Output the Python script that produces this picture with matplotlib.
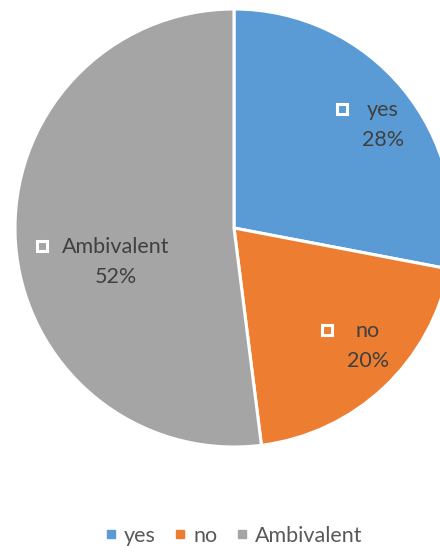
import matplotlib
matplotlib.use("Agg")
import matplotlib.pyplot as plt
from matplotlib.lines import Line2D

categories = ["yes", "no", "Ambivalent"]
shares = [28, 20, 52]
colors = ["#5B9BD5", "#ED7D31", "#A5A5A5"]

W, H = 440, 546
fig = plt.figure(figsize=(W / 100, H / 100), dpi=100)
ax = fig.add_axes([0, 0, 1, 1])

FONT = ["Lato", "DejaVu Sans"]
center = (234, H - 228)
radius = 219

ax.pie(shares, colors=colors, startangle=90, counterclock=False,
       center=center, radius=radius, frame=True,
       wedgeprops=dict(edgecolor="white", linewidth=2.2))
ax.set_xlim(0, W)
ax.set_ylim(0, H)
ax.set_aspect("equal")
ax.axis("off")

# data label anchor points (text block centres, pixel space)
label_pos = [(383, H - 125), (368, H - 346), (116, H - 262)]
line_gap = 30

fig.canvas.draw()
renderer = fig.canvas.get_renderer()
for cat, val, (x, y), col in zip(categories, shares, label_pos, colors):
    t = ax.text(x, y, f"{cat}\n{val}%", ha="center", va="center",
                fontsize=15.5, color="#404040", family=FONT, linespacing=1.63,
                multialignment="center")
    bb = t.get_window_extent(renderer)
    ax.plot(bb.x0 - 20, y + line_gap / 2 + 1, marker="s", markersize=7.8,
            markerfacecolor=col, markeredgecolor="white", markeredgewidth=2.2,
            linestyle="none")

handles = [Line2D([], [], marker="s", linestyle="none", markersize=5.2,
                  markerfacecolor=c, markeredgecolor=c) for c in colors]
leg = fig.legend(handles, categories, loc="center", bbox_to_anchor=(0.53, 1 - 536 / H),
                 ncol=3, frameon=False, handlelength=0.6, handletextpad=0.3,
                 columnspacing=0.85, prop=dict(family=FONT, size=15.5))
for txt in leg.get_texts():
    txt.set_color("#595959")

fig.savefig("out.png", dpi=100)
